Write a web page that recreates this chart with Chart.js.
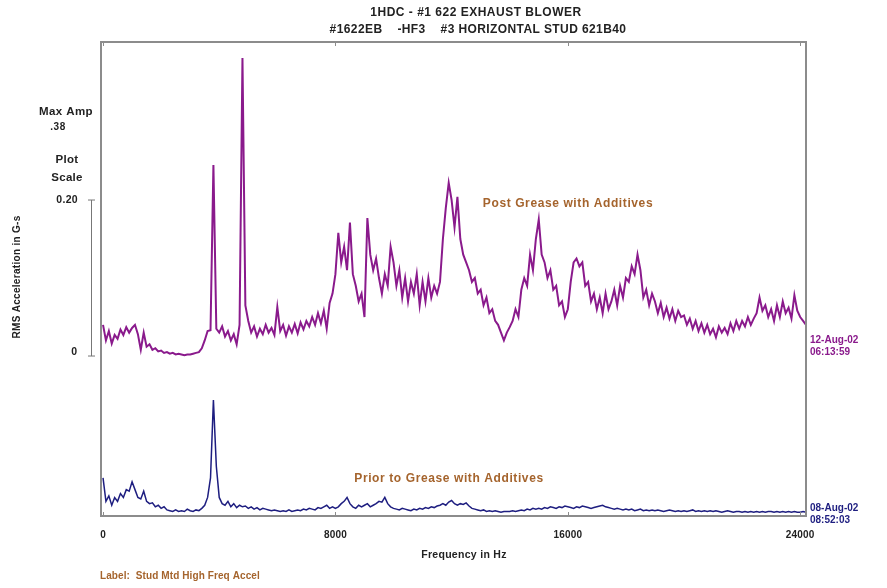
<!DOCTYPE html>
<html>
<head>
<meta charset="utf-8">
<script src="https://cdn.jsdelivr.net/npm/chart.js@4.4.1/dist/chart.umd.min.js"></script>
<style>
  html, body { margin: 0; padding: 0; background: #fff; }
  #wrap { width: 887px; height: 588px; position: relative; }
</style>
</head>
<body>
<div id="wrap"><canvas id="myChart" width="887" height="588"></canvas></div>
<script>
// frequency grid of both spectra (Hz)
var freqStart = 0;
var freqStep = 100;

// 12-Aug-02, post grease with additives (RMS G-s)
var postGrease = [
  .040, .020, .032, .016, .027, .022, .034, .027, .037, .030,
  .036, .040, .028, .008, .030, .012, .015, .008, .010, .006,
  .007, .004, .005, .003, .004, .002, .003, .002, .001, .002,
  .002, .003, .004, .005, .010, .020, .032, .033, .245, .035,
  .030, .038, .025, .032, .020, .028, .015, .040, .382, .065,
  .045, .030, .038, .025, .035, .028, .040, .030, .036, .027,
  .063, .032, .040, .026, .038, .030, .041, .029, .043, .034,
  .045, .038, .050, .040, .055, .042, .058, .035, .068, .080,
  .105, .158, .120, .140, .110, .171, .105, .090, .070, .080,
  .050, .177, .130, .110, .125, .100, .080, .105, .090, .140,
  .120, .090, .110, .075, .100, .070, .095, .080, .105, .065,
  .095, .070, .100, .075, .090, .080, .095, .150, .190, .222,
  .200, .165, .204, .150, .130, .120, .110, .095, .100, .080,
  .085, .065, .075, .055, .060, .045, .040, .030, .020, .030,
  .037, .045, .060, .050, .085, .100, .090, .130, .110, .150,
  .175, .130, .120, .100, .110, .085, .090, .065, .070, .050,
  .060, .095, .120, .125, .115, .120, .090, .095, .070, .080,
  .060, .075, .055, .080, .060, .070, .085, .065, .090, .075,
  .100, .095, .115, .105, .130, .110, .075, .085, .065, .080,
  .070, .055, .068, .050, .062, .048, .060, .045, .058, .050,
  .052, .040, .048, .035, .045, .032, .042, .030, .040, .028,
  .035, .024, .038, .030, .036, .028, .042, .032, .045, .035,
  .045, .038, .050, .040, .048, .055, .075, .058, .065, .050,
  .060, .045, .065, .050, .070, .055, .062, .048, .078, .058,
  .050, .045, .040
];

// 08-Aug-02, prior to grease with additives (RMS G-s)
var priorGrease = [
  .045, .015, .022, .010, .020, .015, .025, .020, .030, .028,
  .040, .030, .020, .018, .028, .015, .012, .013, .008, .010,
  .006, .008, .004, .003, .002, .004, .002, .003, .002, .005,
  .003, .002, .004, .003, .006, .010, .020, .045, .145, .060,
  .020, .012, .010, .015, .008, .012, .007, .010, .008, .009,
  .006, .008, .005, .007, .004, .006, .005, .004, .003, .004,
  .003, .002, .003, .002, .004, .002, .003, .004, .003, .005,
  .004, .006, .005, .004, .007, .006, .008, .010, .006, .008,
  .006, .008, .012, .015, .020, .012, .008, .006, .010, .008,
  .010, .012, .008, .010, .012, .015, .014, .020, .012, .008,
  .006, .005, .004, .006, .005, .004, .003, .005, .004, .006,
  .005, .007, .006, .008, .007, .009, .010, .012, .010, .014,
  .016, .012, .010, .012, .011, .013, .009, .006, .005, .004,
  .003, .004, .002, .003, .002, .003, .002, .001, .002, .002,
  .002, .003, .002, .003, .004, .003, .005, .004, .006, .005,
  .006, .005, .007, .006, .008, .007, .006, .008, .007, .009,
  .008, .007, .006, .008, .007, .009, .008, .007, .006, .007,
  .008, .009, .010, .008, .007, .006, .005, .006, .005, .004,
  .005, .004, .005, .003, .004, .005, .003, .004, .003, .004,
  .003, .004, .003, .002, .003, .004, .003, .002, .003, .002,
  .003, .002, .003, .004, .002, .003, .002, .003, .002, .003,
  .002, .003, .002, .001, .002, .003, .002, .001, .002, .002,
  .001, .002, .001, .002, .001, .002, .001, .002, .001, .002,
  .002, .001, .002, .001, .002, .001, .002, .001, .002, .001,
  .001, .002, .001
];

var freqTicks = [0, 8000, 16000, 24000];
var scaleTicks = [0, 0.20];
var scaleTickLabels = ['0', '0.20'];

var purple = 'rgb(138, 26, 140)';
var navy = 'rgb(30, 30, 128)';
var brown = 'rgb(165, 100, 45)';

function toPoints(vals) {
    return vals.map(function (v, i) { return { x: freqStart + i * freqStep, y: v }; });
}

function txt(c, s, x, y, size, spacing) {
    c.font = 'bold ' + size + 'px "Liberation Sans", Arial, sans-serif';
    c.letterSpacing = (spacing || 0) + 'px';
    c.fillText(s, x, y);
}

var decorations = {
    id: 'decorations',
    afterDraw: function (chart) {
        var c = chart.ctx, a = chart.chartArea;
        var x = chart.scales.x, y = chart.scales.y;
        c.save();
        // frame
        c.strokeStyle = '#8c8c8c';
        c.lineWidth = 2;
        c.strokeRect(a.left, a.top, a.right - a.left, a.bottom - a.top);
        // small ticks on frame
        c.lineWidth = 1;
        freqTicks.forEach(function (f) {
            var px = Math.round(x.getPixelForValue(f)) + 0.5;
            c.beginPath();
            c.moveTo(px, a.top); c.lineTo(px, a.top + 4);
            c.moveTo(px, a.bottom); c.lineTo(px, a.bottom - 4);
            c.stroke();
        });
        // plot scale bar
        var yTop = y.getPixelForValue(scaleTicks[1]);
        var yBot = y.getPixelForValue(scaleTicks[0]);
        c.strokeStyle = '#777';
        c.beginPath();
        c.moveTo(91.5, yTop); c.lineTo(91.5, yBot);
        c.moveTo(88, yTop); c.lineTo(95, yTop);
        c.moveTo(88, yBot); c.lineTo(95, yBot);
        c.stroke();

        c.fillStyle = '#222';
        c.textBaseline = 'middle';
        // titles
        c.textAlign = 'center';
        txt(c, '1HDC - #1 622 EXHAUST BLOWER', 476, 13, 12, 0.5);
        txt(c, '#1622EB    -HF3    #3 HORIZONTAL STUD 621B40', 478, 30, 12, 0.4);

        // x tick labels
        freqTicks.forEach(function (f) {
            txt(c, String(f), x.getPixelForValue(f), 535, 10, 0.2);
        });
        txt(c, 'Frequency in Hz', 464, 555, 10.5, 0.3);

        // left side labels
        txt(c, 'Max Amp', 66, 112, 11.5, 0.4);
        txt(c, '.38', 58, 127, 10, 0.5);
        txt(c, 'Plot', 67, 160, 11.5, 0.3);
        txt(c, 'Scale', 67, 178, 11.5, 0.3);
        c.textAlign = 'right';
        txt(c, scaleTickLabels[1], 78, yTop, 10.5, 0.3);
        txt(c, scaleTickLabels[0], 77, yBot - 4, 10.5, 0);

        // y title
        c.save();
        c.translate(17, 277);
        c.rotate(-Math.PI / 2);
        c.textAlign = 'center';
        txt(c, 'RMS Acceleration in G-s', 0, 0, 10, 0.3);
        c.restore();

        // right side dates
        c.textAlign = 'left';
        c.fillStyle = purple;
        txt(c, '12-Aug-02', 810, 340, 10, 0);
        txt(c, '06:13:59', 810, 352, 10, 0);
        c.fillStyle = navy;
        txt(c, '08-Aug-02', 810, 508, 10, 0);
        txt(c, '08:52:03', 810, 520, 10, 0);

        // trace labels
        c.fillStyle = brown;
        c.textAlign = 'center';
        txt(c, 'Post Grease with Additives', 568, 204, 12, 0.6);
        txt(c, 'Prior to Grease with Additives', 449, 479, 12, 0.6);
        c.textAlign = 'left';
        txt(c, 'Label:  Stud Mtd High Freq Accel', 100, 576, 10, 0.1);
        c.restore();
    }
};

var ctx = document.getElementById('myChart').getContext('2d');
var myChart = new Chart(ctx, {
    type: 'line',
    data: {
        datasets: [{
            label: 'Post Grease with Additives',
            data: toPoints(postGrease),
            yAxisID: 'y',
            borderColor: purple,
            borderWidth: 2,
            pointRadius: 0,
            tension: 0
        }, {
            label: 'Prior to Grease with Additives',
            data: toPoints(priorGrease),
            yAxisID: 'y2',
            borderColor: navy,
            borderWidth: 1.5,
            pointRadius: 0,
            tension: 0
        }]
    },
    options: {
        responsive: false,
        animation: false,
        layout: { padding: { left: 101, right: 81, top: 42, bottom: 72 } },
        plugins: { legend: { display: false }, tooltip: { enabled: false } },
        scales: {
            x: { type: 'linear', min: -70, max: 24200, display: false },
            y: { min: -0.2051, max: 0.4026, display: false },
            y2: { min: -0.0038, max: 0.6038, display: false }
        }
    },
    plugins: [decorations]
});
</script>
</body>
</html>
